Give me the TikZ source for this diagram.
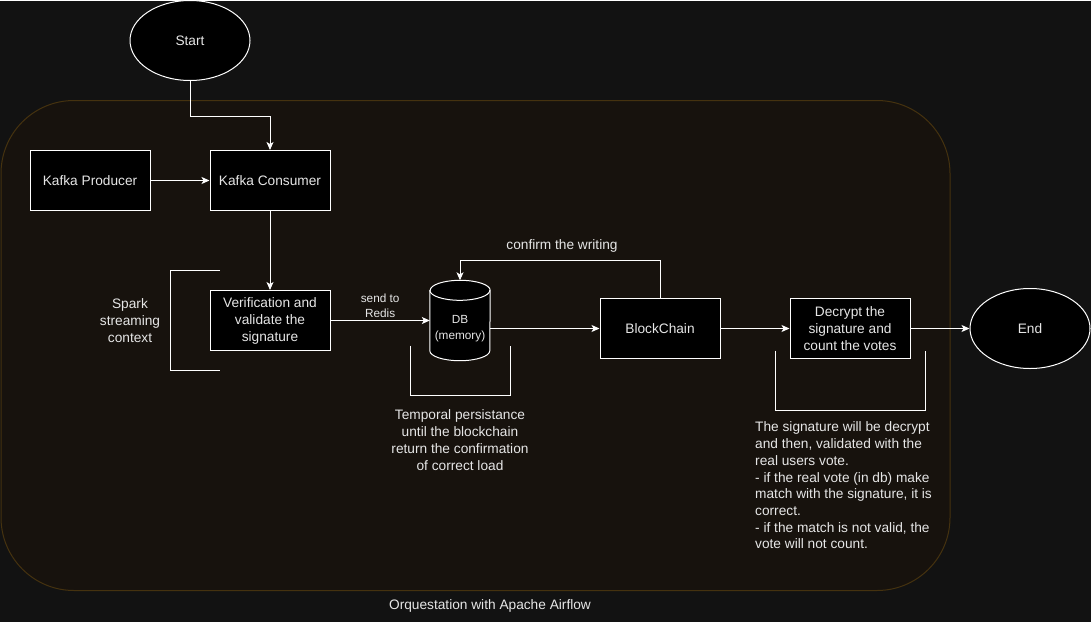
\documentclass[tikz,border=0pt]{standalone}
\usepackage{fontspec}
\setmainfont{Liberation Sans}
\usetikzlibrary{arrows.meta, shapes.geometric}

\definecolor{canvas}{HTML}{121212}
\definecolor{frame}{HTML}{17120D}
\definecolor{frameline}{HTML}{45320F}
\definecolor{ink}{HTML}{E6E6E6}

\begin{document}
\begin{tikzpicture}[x=1pt, y=1pt,
    box/.style={draw=white, fill=black, line width=1pt, text=ink, minimum width=120pt,
        minimum height=60pt, align=center, font=\fontsize{13.7}{17}\selectfont},
    oval/.style={box, ellipse, minimum width=120pt, minimum height=80pt},
    note/.style={text=ink, align=center, inner sep=0pt, font=\fontsize{13.7}{17}\selectfont},
    small/.style={text=ink, align=center, inner sep=0pt, font=\fontsize{11.8}{15}\selectfont},
    arr/.style={-{Stealth[length=8pt, width=7pt, inset=2pt]}, draw=white, line width=1pt},
    bracket/.style={draw=white, line width=1pt}]
    % background and airflow frame
    \fill[canvas] (0,0) rectangle (1091,-621);
    \draw[frameline, fill=frame, rounded corners=73pt, line width=1pt] (1,-100) rectangle (950,-590);

    \node[oval] (start) at (190,-40) {Start};
    \node[box] (producer) at (90,-180) {Kafka Producer};
    \node[box] (consumer) at (270,-180) {Kafka Consumer};
    \node[box] (verify) at (270,-320) {Verification and\\validate the\\signature};
    \node[minimum width=60pt, minimum height=80pt, inner sep=0pt] (db) at (460,-320) {};
    \node[box] (chain) at (660,-328) {BlockChain};
    \node[box] (decrypt) at (850,-328) {Decrypt the\\signature and\\count the votes};
    \node[oval] (finish) at (1030,-328) {End};

    % cylinder for the redis store
    \draw[fill=black, draw=white, line width=1pt] ([yshift=-10pt]db.north west) -- ([yshift=10pt]db.south west)
        arc[start angle=180, end angle=360, x radius=30pt, y radius=10pt]
        -- ([yshift=-10pt]db.north east)
        arc[start angle=0, end angle=180, x radius=30pt, y radius=10pt] -- cycle;
    \draw[white, line width=1pt] ([yshift=-10pt]db.north west)
        arc[start angle=180, end angle=360, x radius=30pt, y radius=10pt];
    \node[small, font=\fontsize{11.8}{16}\selectfont] (dbtext) at (460,-328) {DB\\(memory)};

    % flow
    \draw[arr] (start.south) -- ++(0,-35) -| (consumer.north);
    \draw[arr] (producer) -- (consumer);
    \draw[arr] (consumer) -- (verify);
    \draw[arr] (verify) -- (db.west) node[small, midway, yshift=15pt] {send to\\Redis};
    \draw[arr] (db.east |- chain) -- (chain);
    \draw[arr] (chain.north) -- ++(0,38) -| (db.north);
    \draw[arr] (chain) -- (decrypt);
    \draw[arr] (decrypt) -- (finish);

    % brackets
    \draw[bracket] (220,-270) -- (170,-270) -- (170,-370) -- (220,-370);
    \draw[bracket] (410,-345) -- (410,-395) -- (510,-395) -- (510,-345);
    \draw[bracket] (775,-350) -- (775,-410) -- (925,-410) -- (925,-350);

    % notes
    \node[note] (confirm) at (562,-245) {confirm the writing};
    \node[note] (spark) at (130,-320) {Spark\\streaming\\context};
    \node[note] (persist) at (460,-440) {Temporal persistance\\until the blockchain\\return the confirmation\\of correct load};
    \node[note, align=left, anchor=west, font=\fontsize{13.7}{16.7}\selectfont] (rules) at (755,-485)
        {The signature will be decrypt\\and then, validated with the\\real users vote.\\- if the real vote (in db) make\\match with the signature, it is\\correct.\\- if the match is not valid, the\\vote will not count.};
    \node[note] (airflow) at (490,-605) {Orquestation with Apache Airflow};
\end{tikzpicture}
\end{document}
